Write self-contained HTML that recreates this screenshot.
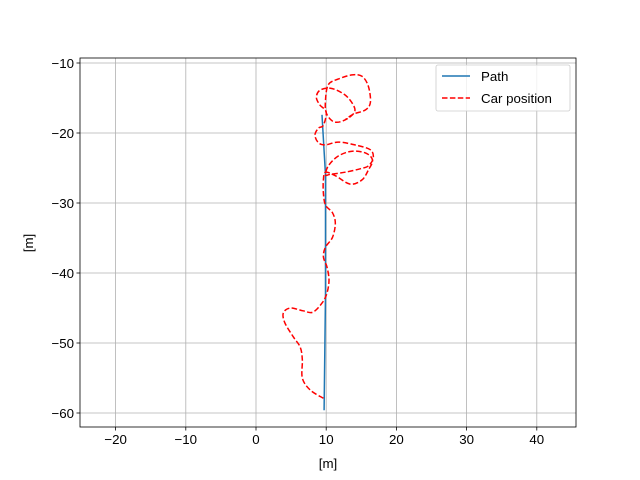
<!DOCTYPE html>
<html><head><meta charset="utf-8"><style>
body{margin:0;background:#fff}
svg{display:block;font-family:"Liberation Sans","DejaVu Sans",sans-serif}
</style></head><body>
<svg id="chart" width="640" height="480"></svg>
<script>
const xTicks=[-20,-10,0,10,20,30,40];
const yTicks=[-10,-20,-30,-40,-50,-60];
const pathX=[9.4,9.9,9.9,9.7];
const pathY=[-17.4,-26,-43,-59.6];
const carX=[9.6,7.7,6.6,6.6,6.3,5.3,4.1,3.9,4.9,6.7,8.1,9.4,10.1,10.4,10.1,9.6,9.9,10.9,11.3,10.9,9.9,9.6,9.6,9.9,11.3,13.4,15.1,16.0,16.6,15.7,13.7,11.7,10.3,9.9,10.6,12.7,14.9,16.0,16.7,16.3,14.1,11.7,9.9,8.9,8.4,8.9,9.6,10.0,9.1,8.6,9.1,10.6,12.3,13.4,14.1,13.4,12.0,10.9,10.0,9.9,10.3,11.7,13.7,15.1,16.0,16.3,15.6,13.9,12.7];
const carY=[-57.9,-56.7,-55.0,-52.4,-50.6,-49.1,-47.1,-45.7,-45.0,-45.4,-45.6,-44.3,-42.9,-41.0,-39.1,-37.7,-36.3,-34.9,-32.9,-31.4,-30.3,-28.6,-26.7,-25.6,-26.1,-27.3,-26.7,-25.3,-23.9,-22.9,-22.6,-23.3,-24.7,-26.0,-25.9,-25.6,-25.1,-24.7,-23.6,-22.4,-21.7,-21.3,-21.7,-21.4,-20.3,-19.3,-18.9,-17.0,-16.0,-14.9,-13.9,-13.6,-14.3,-15.3,-16.7,-17.7,-18.4,-18.3,-17.1,-15.3,-13.1,-12.3,-11.7,-11.9,-13.3,-15.6,-16.7,-17.3,-18.1];
const L=80,R=576,T=58,B=427;
const sx=v=>256+v*7.02;
const sy=v=>63-(v+10)*7.0;
const NS="http://www.w3.org/2000/svg";
const svg=document.getElementById('chart');
function mk(t,a,p){const e=document.createElementNS(NS,t);for(const k in a)e.setAttribute(k,a[k]);(p||svg).appendChild(e);return e;}
function smooth(P){let d='M'+P[0][0]+','+P[0][1];
 for(let i=0;i<P.length-1;i++){const p0=P[Math.max(i-1,0)],p1=P[i],p2=P[i+1],p3=P[Math.min(i+2,P.length-1)];
  const c1=[p1[0]+(p2[0]-p0[0])/6,p1[1]+(p2[1]-p0[1])/6],c2=[p2[0]-(p3[0]-p1[0])/6,p2[1]-(p3[1]-p1[1])/6];
  d+=' C'+c1[0]+','+c1[1]+' '+c2[0]+','+c2[1]+' '+p2[0]+','+p2[1];}
 return d;}
const grid=mk('g',{});


xTicks.forEach(v=>{const x=sx(v);
 const g=mk('line',{x1:x,x2:x,y1:T,y2:B,stroke:'#b0b0b0','stroke-width':0.8},grid);
 
 mk('line',{x1:x,x2:x,y1:B,y2:B+3.5,stroke:'#000','stroke-width':0.8});
 const t=mk('text',{x:x,y:B+17,'text-anchor':'middle','font-size':13.3});
 t.textContent=String(v).replace('-','\u2212');
 });
yTicks.forEach(v=>{const y=sy(v);
 const g=mk('line',{x1:L,x2:R,y1:y,y2:y,stroke:'#b0b0b0','stroke-width':0.8},grid);
 
 mk('line',{x1:L-3.5,x2:L,y1:y,y2:y,stroke:'#000','stroke-width':0.8});
 const t=mk('text',{x:L-6,y:y+4.8,'text-anchor':'end','font-size':13.3});
 t.textContent=String(v).replace('-','\u2212');
 });
const pp=mk('polyline',{points:pathX.map((v,i)=>sx(v)+','+sy(pathY[i])).join(' '),fill:'none',stroke:'#1f77b4','stroke-width':1.5});

const cp=mk('path',{d:smooth(carX.map((v,i)=>[sx(v),sy(carY[i])])),fill:'none',stroke:'#ff0000','stroke-width':1.5,'stroke-dasharray':'5.5,2.4','stroke-linejoin':'round'});

const fr=mk('rect',{x:L,y:T,width:R-L,height:B-T,fill:'none',stroke:'#000','stroke-width':0.8});

const xl=mk('text',{x:(L+R)/2,y:468,'text-anchor':'middle','font-size':13.3});xl.textContent='[m]';

const yl=mk('text',{x:0,y:0,'text-anchor':'middle','font-size':13.3,transform:'translate(33,243) rotate(-90)'});yl.textContent='[m]';

const lg=mk('g',{});

mk('rect',{x:436,y:65,width:134,height:46,rx:2,fill:'#fff','fill-opacity':0.8,stroke:'#ccc','stroke-width':0.8},lg);
const e1=mk('g',{},lg);
mk('line',{x1:442,x2:470,y1:76,y2:76,stroke:'#1f77b4','stroke-width':1.5},e1);
mk('text',{x:481,y:81,'font-size':13.3},e1).textContent='Path';
const e2=mk('g',{},lg);
mk('line',{x1:442,x2:470,y1:98,y2:98,stroke:'#ff0000','stroke-width':1.5,'stroke-dasharray':'5.5,2.4'},e2);
mk('text',{x:481,y:103,'font-size':13.3},e2).textContent='Car position';
</script>
</body></html>
